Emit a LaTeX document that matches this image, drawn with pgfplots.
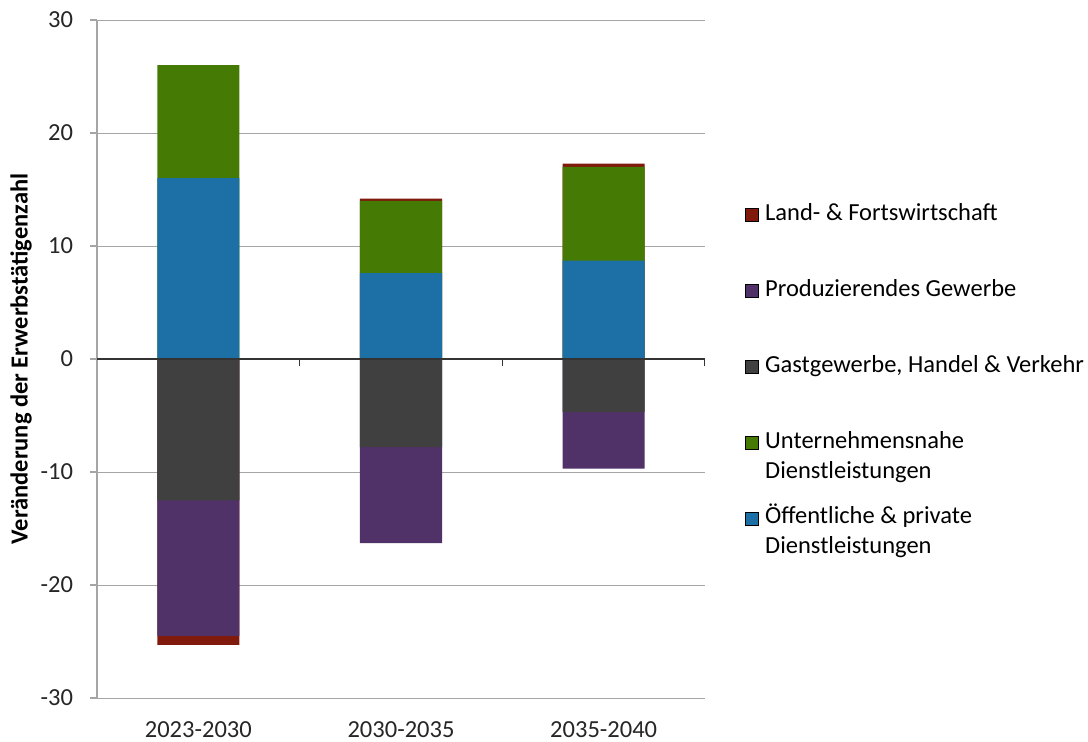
\documentclass[border=0pt]{standalone}
\usepackage{pgfplots}
\pgfplotsset{compat=1.18}
\usepackage{fontspec}
\setmainfont{Carlito}
\definecolor{cRed}{RGB}{128,26,13}
\definecolor{cPurple}{RGB}{80,49,104}
\definecolor{cGrey}{RGB}{64,64,64}
\definecolor{cGreen}{RGB}{69,122,5}
\definecolor{cBlue}{RGB}{29,112,166}
\definecolor{gridgrey}{RGB}{165,165,165}
\begin{document}
\begin{tikzpicture}
\path[use as bounding box] (-48.5bp,-22bp) rectangle (495.5bp,349bp);
\begin{axis}[
  at={(0,0)}, anchor=south west,
  scale only axis, width=304bp, height=339bp,
  xmin=0, xmax=3, ymin=-30, ymax=30,
  ytick={-30,-20,...,30},
  xtick={0.5,1.5,2.5},
  xticklabels={2023-2030,2030-2035,2035-2040},
  axis y line*=left, axis x line*=bottom,
  axis line style={gridgrey, line width=0.75bp},
  x axis line style={gridgrey, line width=0.5bp},
  major x tick style={draw=none},
  ytick style={gridgrey, line width=0.75bp},
  tick align=outside, major tick length=3.5bp,
  ymajorgrids, grid style={gridgrey, line width=0.5bp},
  tick label style={font=\fontsize{12.3}{15}\selectfont, text=black!85},
  x tick label style={yshift=-5bp},
  y tick label style={xshift=-5bp},
  /pgf/number format/assume math mode=true,
  ylabel={\bfseries Veränderung der Erwerbstätigenzahl},
  every axis y label/.style={at={(axis description cs:-0.125,0.5)}, rotate=90, anchor=center, font=\fontsize{12.3}{15}\selectfont},
  ybar, bar shift=0pt, bar width=0.405,
  legend style={draw=none, fill=none, inner sep=0pt, row sep=30.2bp, column sep=3bp,
    at={(axis description cs:1.0658,0.7227)}, anchor=north west,
    font=\fontsize{12.3}{15}\selectfont,
    nodes={inner sep=0pt, anchor=base west}},
  legend cell align=left,
  legend image code/.code={\fill[#1] (0bp,-0.5bp) rectangle (6.5bp,6bp);},
]
% cumulative tops of each stacked segment, drawn largest first
\addplot[fill=cRed, draw=none, forget plot] coordinates {(0.5,-25.3) (1.5,14.2) (2.5,17.3)};
\addplot[fill=cGreen, draw=none, forget plot] coordinates {(0.5,26.0) (1.5,14.0) (2.5,17.0)};
\addplot[fill=cPurple, draw=none, forget plot] coordinates {(0.5,-24.5) (1.5,-16.3) (2.5,-9.7)};
\addplot[fill=cBlue, draw=none, forget plot] coordinates {(0.5,16.0) (1.5,7.6) (2.5,8.7)};
\addplot[fill=cGrey, draw=none, forget plot] coordinates {(0.5,-12.5) (1.5,-7.8) (2.5,-4.7)};
\draw[black!80, line width=0.75bp] (axis cs:0,0) -- (axis cs:3,0);
\draw[black!80, line width=0.75bp] (axis cs:1,0) -- ([yshift=-3.5bp]axis cs:1,0);
\draw[black!80, line width=0.75bp] (axis cs:2,0) -- ([yshift=-3.5bp]axis cs:2,0);
\draw[black!80, line width=0.75bp] (axis cs:3,0) -- ([yshift=-3.5bp]axis cs:3,0);
\addlegendimage{fill=cRed}
\addlegendentry{\smash{\parbox[t]{7cm}{Land- \& Fortswirtschaft}}}
\addlegendimage{fill=cPurple}
\addlegendentry{\smash{\parbox[t]{7cm}{Produzierendes Gewerbe}}}
\addlegendimage{fill=cGrey}
\addlegendentry{\smash{\parbox[t]{7cm}{Gastgewerbe, Handel \& Verkehr}}}
\addlegendimage{fill=cGreen}
\addlegendentry{\smash{\parbox[t]{7cm}{Unternehmensnahe\\Dienstleistungen}}}
\addlegendimage{fill=cBlue}
\addlegendentry{\smash{\parbox[t]{7cm}{Öffentliche \& private\\Dienstleistungen}}}
\end{axis}
\end{tikzpicture}
\end{document}
